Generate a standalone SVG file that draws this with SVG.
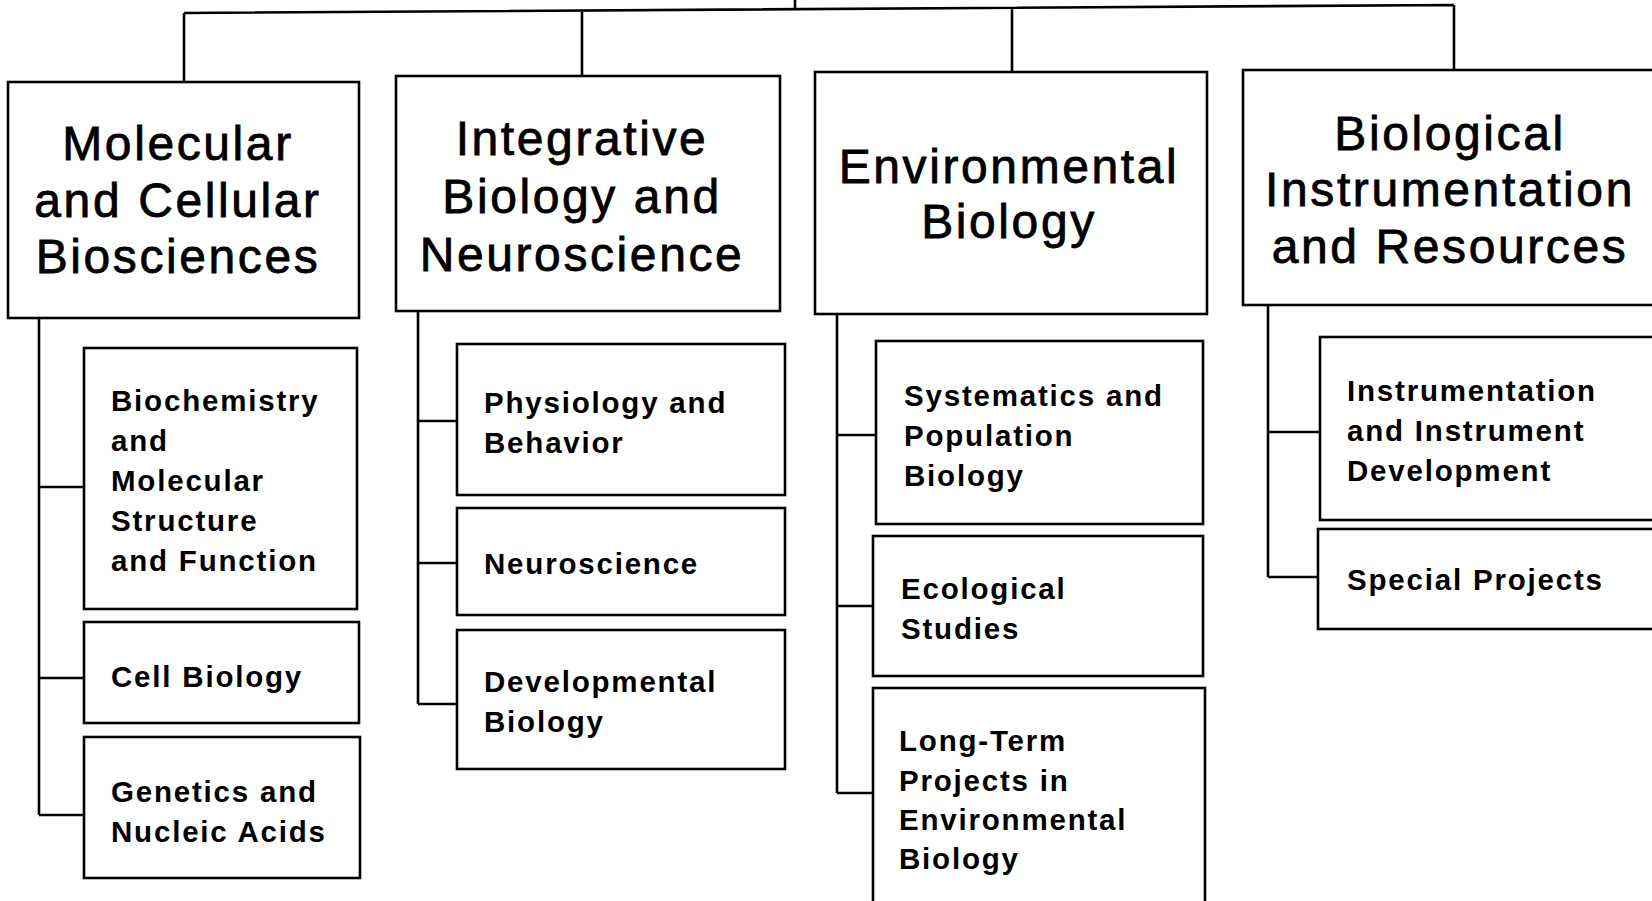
<svg xmlns="http://www.w3.org/2000/svg" width="1652" height="901" viewBox="0 0 1652 901">
<style>
.bx{fill:#fff;stroke:#000;stroke-width:2.6}
.cn{fill:none;stroke:#000;stroke-width:2.6}
.hd{font-family:"Liberation Sans",Arial,sans-serif;font-size:48px;letter-spacing:2.6px;fill:#000;stroke:#000;stroke-width:0.8;text-anchor:middle}
.sb{font-family:"Liberation Sans",Arial,sans-serif;font-size:29.5px;font-weight:bold;letter-spacing:1.8px;fill:#000}
</style>
<rect width="1652" height="901" fill="#fff"/>
<g id="connectors">
<path class="cn" d="M795,0 V9 M184,13 L1454,5 M184,13 V82 M582,10.5 V76 M1012,7 V72 M1454,5 V70"/>
<path class="cn" d="M39,318 V815 M39,487 H84 M39,678 H84 M39,815 H84"/>
<path class="cn" d="M418,311 V704 M418,421 H457 M418,563 H457 M418,704 H457"/>
<path class="cn" d="M837,314 V793 M837,435 H876 M837,606 H873 M837,793 H873"/>
<path class="cn" d="M1268,305 V577 M1268,432 H1320 M1268,577 H1318"/>
</g>
<g id="mcb">
<rect class="bx" x="8" y="82" width="351" height="236"/>
<text class="hd" x="178" y="160">Molecular</text>
<text class="hd" x="178" y="217">and Cellular</text>
<text class="hd" x="178" y="273">Biosciences</text>
</g>
<g id="ibn">
<rect class="bx" x="396" y="76" width="384" height="235"/>
<text class="hd" x="582" y="155">Integrative</text>
<text class="hd" x="582" y="213">Biology and</text>
<text class="hd" x="582" y="271">Neuroscience</text>
</g>
<g id="eb">
<rect class="bx" x="815" y="72" width="392" height="242"/>
<text class="hd" x="1009" y="183">Environmental</text>
<text class="hd" x="1009" y="238">Biology</text>
</g>
<g id="bir">
<rect class="bx" x="1243" y="70" width="420" height="235"/>
<text class="hd" x="1450" y="150">Biological</text>
<text class="hd" x="1450" y="206">Instrumentation</text>
<text class="hd" x="1450" y="263">and Resources</text>
</g>
<g id="biochem">
<rect class="bx" x="84" y="348" width="273" height="261"/>
<text class="sb" x="111" y="411">Biochemistry</text>
<text class="sb" x="111" y="451">and</text>
<text class="sb" x="111" y="491">Molecular</text>
<text class="sb" x="111" y="531">Structure</text>
<text class="sb" x="111" y="571">and Function</text>
</g>
<g id="cell">
<rect class="bx" x="84" y="622" width="275" height="101"/>
<text class="sb" x="111" y="687">Cell Biology</text>
</g>
<g id="genetics">
<rect class="bx" x="84" y="737" width="276" height="141"/>
<text class="sb" x="111" y="802">Genetics and</text>
<text class="sb" x="111" y="842">Nucleic Acids</text>
</g>
<g id="physio">
<rect class="bx" x="457" y="344" width="328" height="151"/>
<text class="sb" x="484" y="413">Physiology and</text>
<text class="sb" x="484" y="453">Behavior</text>
</g>
<g id="neuro">
<rect class="bx" x="457" y="508" width="328" height="107"/>
<text class="sb" x="484" y="574">Neuroscience</text>
</g>
<g id="devel">
<rect class="bx" x="457" y="630" width="328" height="139"/>
<text class="sb" x="484" y="692">Developmental</text>
<text class="sb" x="484" y="732">Biology</text>
</g>
<g id="system">
<rect class="bx" x="876" y="341" width="327" height="183"/>
<text class="sb" x="904" y="406">Systematics and</text>
<text class="sb" x="904" y="446">Population</text>
<text class="sb" x="904" y="486">Biology</text>
</g>
<g id="ecol">
<rect class="bx" x="873" y="536" width="330" height="140"/>
<text class="sb" x="901" y="599">Ecological</text>
<text class="sb" x="901" y="639">Studies</text>
</g>
<g id="longterm">
<rect class="bx" x="873" y="688" width="332" height="260"/>
<text class="sb" x="899" y="751">Long-Term</text>
<text class="sb" x="899" y="791">Projects in</text>
<text class="sb" x="899" y="830">Environmental</text>
<text class="sb" x="899" y="869">Biology</text>
</g>
<g id="instr">
<rect class="bx" x="1320" y="337" width="340" height="183"/>
<text class="sb" x="1347" y="401">Instrumentation</text>
<text class="sb" x="1347" y="441">and Instrument</text>
<text class="sb" x="1347" y="481">Development</text>
</g>
<g id="special">
<rect class="bx" x="1318" y="529" width="342" height="100"/>
<text class="sb" x="1347" y="590">Special Projects</text>
</g>
</svg>
